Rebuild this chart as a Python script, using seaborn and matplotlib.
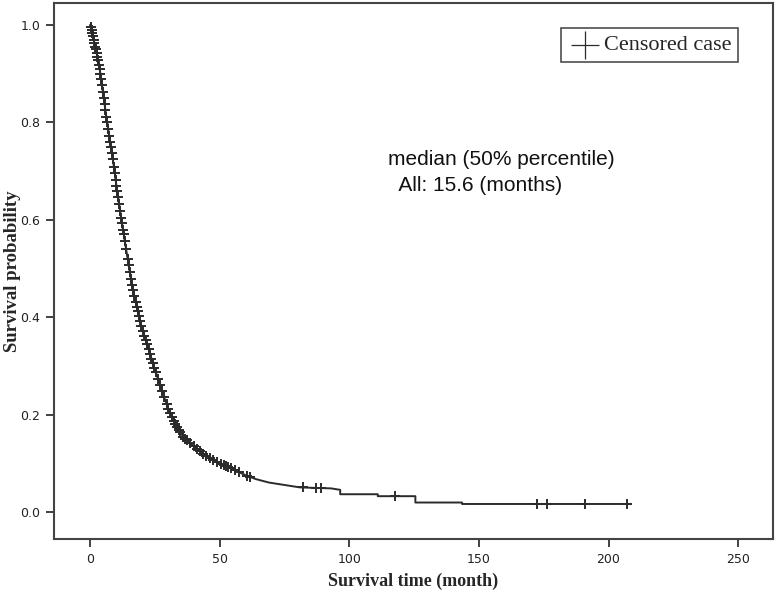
import numpy as np
import pandas as pd
import matplotlib.pyplot as plt
import seaborn as sns

# Kaplan-Meier curve (months, survival probability)
km_time = [0, 0.6, 2, 3, 4, 5, 6, 7, 8, 9, 10, 11, 12, 13, 14, 15, 16, 17, 18, 19, 20,
           22, 24, 26, 28, 30, 32, 34, 36, 38, 40, 43, 46, 50, 53, 56, 60, 64, 69, 75, 81,
           93, 96.5, 96.5, 111, 111, 125.5, 125.5, 143.5, 143.5, 208]
km_surv = [1.0, 0.99, 0.955, 0.93, 0.9, 0.862, 0.822, 0.787, 0.752, 0.717, 0.677, 0.64,
           0.603, 0.57, 0.537, 0.503, 0.472, 0.446, 0.421, 0.4, 0.378, 0.345, 0.31, 0.277,
           0.245, 0.215, 0.19, 0.17, 0.155, 0.145, 0.135, 0.123, 0.112, 0.1, 0.093, 0.086,
           0.076, 0.068, 0.061, 0.056, 0.051, 0.049, 0.046, 0.037, 0.037, 0.033, 0.033,
           0.020, 0.020, 0.017, 0.017]

censor_time = [0.3, 0.6, 0.9, 1.1, 1.4, 1.7, 2.0, 2.2, 2.5, 2.8, 3.1, 3.4, 3.7, 4.0, 4.3,
               4.6, 5.0, 5.3, 5.6, 5.9, 6.3, 6.6, 7.0, 7.4, 7.8, 8.1, 8.4, 8.8, 9.2, 9.5,
               9.9, 10.2, 10.5, 10.8, 11.2, 11.6, 12.0, 12.3, 12.7, 13.0, 13.4, 13.9, 14.5,
               14.9, 15.3, 15.8, 16.2, 16.6, 17.1, 17.6, 18.0, 18.4, 18.9, 19.3, 19.8, 20.4,
               21.0, 21.5, 22.0, 22.6, 23.1, 23.7, 24.2, 24.8, 25.3, 26.2, 27.0, 27.7, 28.5,
               29.5, 30.2, 30.9, 31.6, 32.3, 32.8, 33.6, 34.2, 34.8, 36.0, 36.8, 37.5, 38.6,
               40.0, 41.2, 42.3, 43.7, 44.8, 46.3, 47.5, 48.9, 50.5, 51.5, 52.3, 53.2, 54.2,
               55.9, 57.5, 60.4, 61.7, 82.0, 87.0, 89.0, 117.7, 172.4, 176.3, 191.0, 207.0]

median_text = "median (50% percentile)\n  All: 15.6 (months)"

curve = pd.DataFrame({"time": km_time, "surv": km_surv})
censor = pd.DataFrame({"time": censor_time})
# survival at each censored time, taken from the curve above
censor["surv"] = np.interp(censor["time"], curve["time"], curve["surv"])

sns.set_style("ticks")
plt.rcParams["font.family"] = ["DejaVu Sans"]

fig = plt.figure(figsize=(7.77, 5.95), dpi=100)
ax = fig.add_axes([0.0695, 0.094, 0.9255, 0.901])

line_col = "#2b2b2b"
sns.lineplot(data=curve, x="time", y="surv", estimator=None, sort=False,
             color=line_col, linewidth=1.4, ax=ax)
sns.scatterplot(data=censor, x="time", y="surv", marker="+", s=60, linewidth=1.4,
                color=line_col, ax=ax, label="Censored case", zorder=3)

ax.set_xlim(-13.9, 263.5)
ax.set_ylim(-0.055, 1.045)
ax.set_xticks([0, 50, 100, 150, 200, 250])
ax.set_yticks([0.0, 0.2, 0.4, 0.6, 0.8, 1.0])
ax.set_yticklabels(["0.0", "0.2", "0.4", "0.6", "0.8", "1.0"])
ax.tick_params(axis="both", direction="out", length=6, width=1.3, colors="#333333",
               labelsize=9, labelcolor="#222222", pad=4)

for side in ax.spines.values():
    side.set_color("#444444")
    side.set_linewidth(1.5)

ax.set_xlabel("Survival time (month)", family="Liberation Serif", fontweight="bold",
              fontsize=13)
ax.set_ylabel("Survival probability", family="Liberation Serif", fontweight="bold",
              fontsize=13.5)
ax.xaxis.set_label_coords(0.5, -0.063)
ax.yaxis.set_label_coords(-0.046, 0.5)

ax.text(0.4645, 0.726, median_text, transform=ax.transAxes, fontsize=15,
        family="Liberation Sans", color="#111111", va="top", linespacing=1.45)

leg = ax.legend(loc="upper right", bbox_to_anchor=(0.951, 0.953), borderaxespad=0,
                frameon=True, fancybox=False, edgecolor="#222222", markerscale=2.6,
                handlelength=1.5, handletextpad=0.1, borderpad=0.3,
                prop={"family": "Liberation Serif", "size": 16})
leg.get_frame().set_linewidth(1.2)
for h in leg.legend_handles:
    h.set_linewidth(0.9)

fig.savefig("out.png", dpi=100)
